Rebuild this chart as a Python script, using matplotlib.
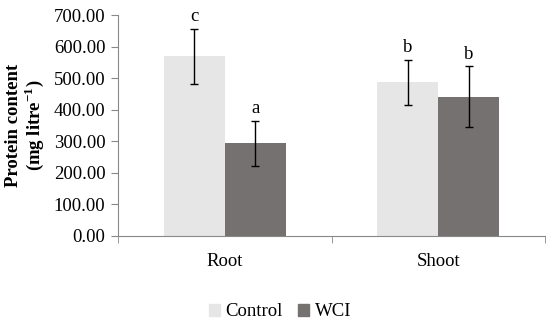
import matplotlib
matplotlib.use("Agg")
import matplotlib.pyplot as plt
import numpy as np
from matplotlib.patches import Patch

categories = ["Root", "Shoot"]
control = [570, 487]
control_err = [87, 72]
wci = [294, 441]
wci_err = [71, 96]
control_letters = ["c", "b"]
wci_letters = ["a", "b"]
yticks = [0, 100, 200, 300, 400, 500, 600, 700]

plt.rcParams['font.family'] = ['Liberation Serif', 'DejaVu Serif']
plt.rcParams['mathtext.fontset'] = 'custom'
plt.rcParams['mathtext.rm'] = 'Liberation Serif'
plt.rcParams['mathtext.bf'] = 'Liberation Serif:bold'

fig = plt.figure(figsize=(5.5, 3.26), dpi=100)
ax = fig.add_axes([118/550, 1-236/326, (545-118)/550, (236-15)/326])

x = np.arange(len(categories))
w = 0.286
c1, c2 = "#e6e6e6", "#767171"
fs = 13.5
ax.bar(x - w/2, control, w, color=c1, label="Control")
ax.bar(x + w/2, wci, w, color=c2, label="WCI")
ax.errorbar(x - w/2, control, yerr=control_err, fmt='none', ecolor='black', elinewidth=1, capsize=3, capthick=1)
ax.errorbar(x + w/2, wci, yerr=wci_err, fmt='none', ecolor='black', elinewidth=1, capsize=3, capthick=1)
for i in range(len(categories)):
    ax.text(x[i] - w/2, control[i] + control_err[i] + 12, control_letters[i], ha='center', va='bottom', fontsize=fs)
    ax.text(x[i] + w/2, wci[i] + wci_err[i] + 12, wci_letters[i], ha='center', va='bottom', fontsize=fs)

ax.set_xlim(-0.5, 1.5)
ax.set_ylim(0, 700)
ax.set_yticks(yticks)
ax.set_yticklabels([f"{v:.2f}" for v in yticks], fontsize=fs)
ax.set_xticks(x)
ax.set_xticklabels(categories, fontsize=fs)
ax.tick_params(axis='x', length=0, pad=12)
ax.set_xticks([-0.5, 0.5, 1.5], minor=True)
ax.tick_params(axis='x', which='minor', length=5, color='#888888', direction='out')
ax.tick_params(axis='y', length=5, color='#888888', direction='out', pad=4)
for s in ['top', 'right']:
    ax.spines[s].set_visible(False)
for s in ['left', 'bottom']:
    ax.spines[s].set_color('#888888')
ax.set_ylabel("Protein content\n(mg litre$^{\\mathbf{-1}}$)", fontsize=13.5, fontweight='bold', labelpad=6,
              linespacing=1.0)

handles = [Patch(color=c1, label="Control"), Patch(color=c2, label="WCI")]
fig.legend(handles=handles, loc='center', bbox_to_anchor=(280/550, 1-312/326), ncol=2, frameon=False,
           fontsize=fs, handlelength=0.6, handleheight=0.6, handletextpad=0.3, columnspacing=0.8)

fig.savefig("out.png", dpi=100)
